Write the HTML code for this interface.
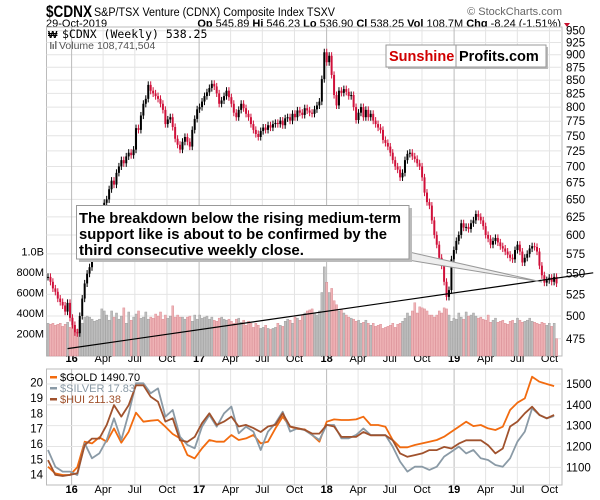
<!DOCTYPE html>
<html><head><meta charset="utf-8">
<style>
body{margin:0;background:#fff;}
svg{display:block;font-family:"Liberation Sans",sans-serif;}
</style></head>
<body>
<svg id="c" width="600" height="500" viewBox="0 0 600 500" xmlns="http://www.w3.org/2000/svg">
<rect width="600" height="500" fill="#fff"/>
<g>
<text x="46" y="17" font-size="17" font-weight="bold" textLength="46" lengthAdjust="spacingAndGlyphs">$CDNX</text>
<text x="94" y="16" font-size="11.5" textLength="241" lengthAdjust="spacingAndGlyphs">S&amp;P/TSX Venture (CDNX) Composite Index  TSXV</text>
<text x="562" y="15" font-size="11" fill="#666" text-anchor="end">© StockCharts.com</text>
<text x="46" y="27" font-size="11">29-Oct-2019</text>
<text x="561" y="27" font-size="11" text-anchor="end"><tspan font-weight="bold">Op</tspan> 545.89  <tspan font-weight="bold">Hi</tspan> 546.23  <tspan font-weight="bold">Lo</tspan> 536.90  <tspan font-weight="bold">Cl</tspan> 538.25  <tspan font-weight="bold">Vol</tspan> 108.7M  <tspan font-weight="bold">Chg</tspan> -8.24 (-1.51%)</text>
<polygon points="564,23 570,23 567,27" fill="#c8102e"/>
</g>
<g id="main"></g>
<g id="lower"></g>
</svg>
<script>
// ---- data ----
const closes=[546,540,532,528,520,516,512,505,515,498,490,482,481,
500,520,538,550,558,575,590,610,625,635,645,650,
665,678,672,690,700,710,705,716,722,718,727,
763,760,785,806,815,841,830,825,820,
815,806,795,770,778,782,765,745,735,727,740,748,
740,732,760,779,796,800,810,820,827,835,843,838,
825,806,812,820,830,818,806,790,782,795,806,798,788,782,770,760,753,748,758,764,
760,768,764,770,772,770,776,768,780,782,776,788,782,794,790,786,798,794,790,788,796,803,810,
852,905,885,898,860,822,803,830,826,833,828,
820,822,800,777,790,800,782,795,782,788,776,770,764,760,743,738,732,722,710,700,695,683,690,
710,720,722,716,712,705,700,683,660,646,641,620,600,587,570,560,540,522,530,568,
580,592,600,616,610,611,608,616,620,629,625,620,612,600,595,587,592,596,590,585,582,
578,574,570,568,580,587,578,564,570,575,582,585,584,578,560,548,539,542,545,540,546,538];
const volumes=[300,290,300,280,290,300,270,290,310,260,280,210,240,
330,300,360,370,360,340,320,330,340,440,420,380,330,420,360,400,340,370,
450,300,410,330,360,390,420,350,360,410,340,360,350,390,370,410,340,380,350,370,470,360,380,360,360,
340,360,370,320,380,340,380,350,360,370,340,360,330,320,350,360,340,330,340,320,300,340,350,310,330,280,320,300,260,300,280,250,260,280,250,
240,250,260,300,280,270,320,340,330,300,360,350,330,380,400,420,430,440,400,380,420,
600,850,700,600,640,520,480,420,430,400,380,
360,350,340,320,330,300,310,330,300,280,300,270,280,290,250,260,270,280,300,260,290,300,320,
350,400,370,420,500,400,460,450,440,420,380,380,360,380,420,400,450,440,380,320,
350,340,400,360,340,410,370,380,400,370,350,360,340,330,380,310,330,350,310,320,330,
300,290,320,330,300,350,330,310,320,330,350,320,310,300,290,310,300,280,300,270,300,150];
const priceTicks=[950,925,900,875,850,825,800,775,750,725,700,675,650,625,600,575,550,525,500,475];
const volTicks=[200,400,600,800,1000];
const volTickLabels=["200M","400M","600M","800M","1.0B"];
const monthLabels=["16","Apr","Jul","Oct","17","Apr","Jul","Oct","18","Apr","Jul","Oct","19","Apr","Jul","Oct"];
const monthYears=[2016,2016.247,2016.496,2016.748,2017,2017.247,2017.496,2017.748,2018,2018.247,2018.496,2018.748,2019,2019.247,2019.496,2019.748];
const trendWeeks=[8,223];
const trendPrices=[464.6,551];
// lower panel (every 3 weeks)
const lowerWeeks=[0,3,6,9,12,15,18,21,24,27,30,33,36,39,42,45,48,51,54,57,60,63,66,69,72,75,78,81,84,87,90,93,96,99,102,105,108,111,114,117,120,123,126,129,132,135,138,141,144,147,150,153,156,159,162,165,168,171,174,177,180,183,186,189,192,195,198,201,204,207];
const gold=[1103,1071,1063,1063,1100,1223,1215,1244,1223,1287,1218,1271,1362,1319,1324,1327,1295,1260,1239,1159,1143,1191,1231,1223,1223,1255,1231,1239,1255,1215,1223,1287,1343,1295,1284,1282,1255,1223,1319,1330,1327,1327,1330,1343,1303,1303,1295,1231,1196,1196,1207,1215,1223,1231,1247,1271,1295,1319,1298,1303,1287,1279,1295,1375,1410,1431,1535,1511,1500,1490];
const silver=[15.61,14.52,14.2,14.2,13.98,16.05,15.07,15.39,16.26,17.68,16.26,18.0,19.96,19.96,19.31,19.63,17.78,18.22,16.48,15.94,15.72,17.13,17.89,17.13,18.0,18.44,16.7,17.13,16.81,15.61,16.81,17.35,18.11,16.81,17.02,16.91,16.59,16.26,17.24,17.24,16.37,16.37,16.59,17.02,16.59,16.59,16.59,15.83,14.85,14.2,14.52,14.52,14.31,14.52,15.18,15.5,15.83,15.39,15.61,15.07,14.96,14.63,14.52,15.07,16.15,16.81,18.33,17.89,17.67,17.83];
const hui=[129,102,100,102,105,156,168,168,193,229,208,229,265,265,244,235,199,205,165,162,171,196,214,193,199,208,190,193,187,180,190,193,214,190,187,184,177,177,193,190,171,171,171,180,174,174,174,165,141,135,138,141,147,147,153,150,159,165,165,165,156,141,150,190,199,214,226,211,205,211];
const goldTicks=[1100,1200,1300,1400,1500];
const silverTicks=[14,15,16,17,18,19,20];

// ---- scales ----
const NS="http://www.w3.org/2000/svg";
const L=46.5,R=562,T=27,B=356,LT=369,LB=485;
const xW=w=>48+w*2.445;
const xD=d=>71.6+(d-2016)*127.5;
const yP=p=>30.7-Math.log(p/950)*444.5;
const yV=v=>354-v*0.1025;
function mk(parent,tag,attrs){const e=document.createElementNS(NS,tag);for(const k in attrs)e.setAttribute(k,attrs[k]);parent.appendChild(e);return e;}
const main=document.getElementById('main'),lower=document.getElementById('lower');

let fr=mk(main,'rect',{x:L,y:T,width:R-L,height:B-T,fill:'#fff',stroke:'#bbb'});


priceTicks.forEach(p=>{
  const y=yP(p);
  let g=mk(main,'line',{x1:L,x2:R,y1:y,y2:y,stroke:'#e4e4e4'});
  
  
  let t=mk(main,'text',{x:566,y:y+4,'font-size':11.5});t.textContent=p;
  
  
});
volTicks.forEach((v,i)=>{
  const y=yV(v);
  let t=mk(main,'text',{x:44,y:y+4,'font-size':11,'text-anchor':'end'});t.textContent=volTickLabels[i];
  
  
});
monthYears.forEach((d,i)=>{
  const x=xD(d),yr=i%4===0;
  [[main,T,B,362],[lower,LT,LB,493]].forEach(([g,a,b,ty])=>{
    let l=mk(g,'line',{x1:x,x2:x,y1:a,y2:b,stroke:yr?'#bbb':'#e4e4e4'});
    
    
    let t=mk(g,'text',{x:x,y:ty,'font-size':11,'text-anchor':'middle','font-weight':yr?'bold':'normal'});t.textContent=monthLabels[i];
    
    
  });
});
volumes.forEach((v,i)=>{
  const down=i>0&&closes[i]<closes[i-1];
  const y=yV(v);
  let b=mk(main,'rect',{x:xW(i)-1,y:y,width:2.1,height:yV(0)-y+2,fill:down?'#eeb2b5':'#bdbdbd',stroke:down?'#d98890':'#9a9a9a','stroke-width':0.4});
  
  
});
closes.forEach((c,i)=>{
  const o=i>0?closes[i-1]:c;
  const down=c<o;
  const col=down?'#d0103a':'#000';
  const hi=Math.max(o,c)*1.008,lo=Math.min(o,c)*0.992;
  const x=xW(i);
  let w=mk(main,'line',{x1:x,x2:x,y1:yP(hi),y2:yP(lo),stroke:col,'stroke-width':1});
  
  
  const y1=yP(Math.max(o,c)),y2=yP(Math.min(o,c));
  let b=mk(main,'rect',{x:x-1,y:y1,width:2,height:Math.max(1,y2-y1),fill:col});
  
  
});
let tl=mk(main,'line',{x1:xW(trendWeeks[0]),y1:yP(trendPrices[0]),x2:xW(trendWeeks[1]),y2:yP(trendPrices[1]),stroke:'#000','stroke-width':1.2});


</script>
<script>
(function(){
const NS="http://www.w3.org/2000/svg";
const main=document.getElementById('main');
function mk(parent,tag,attrs,txt){const e=document.createElementNS(NS,tag);for(const k in attrs)e.setAttribute(k,attrs[k]);if(txt)e.textContent=txt;parent.appendChild(e);return e;}
let t=mk(main,'text',{x:62,y:38,'font-size':11.5,'font-family':'DejaVu Sans Mono, monospace'},'$CDNX (Weekly) 538.25');


mk(main,'text',{x:48,y:38,'font-size':10,'font-weight':'bold'},'₩');
t=mk(main,'text',{x:59,y:49,'font-size':10.5,fill:'#555'},'Volume 108,741,504');


mk(main,'rect',{x:50,y:42,width:1.5,height:7,fill:'#777'});mk(main,'rect',{x:52.5,y:44,width:1.5,height:5,fill:'#777'});mk(main,'rect',{x:55,y:41,width:1.5,height:8,fill:'#777'});
let lg=mk(main,'g',{});


mk(lg,'rect',{x:388,y:47,width:160,height:22,fill:'#bbb'});
mk(lg,'rect',{x:386,y:45,width:160,height:22,fill:'#fff',stroke:'#999'});
mk(lg,'line',{x1:456,x2:456,y1:45,y2:67,stroke:'#999'});
mk(lg,'text',{x:389,y:61,'font-size':14.5,'font-weight':'bold',fill:'#d00000'},'Sunshine');
mk(lg,'text',{x:459,y:61,'font-size':14.5,'font-weight':'bold',fill:'#000'},'Profits.com');
let cg=mk(main,'g',{});


mk(cg,'polygon',{points:'409,252 542,282 402,259',fill:'#eee',stroke:'#999','stroke-width':1});
mk(cg,'rect',{x:79,y:208,width:333,height:54,fill:'#bbb'});
mk(cg,'rect',{x:76.5,y:205.5,width:332.5,height:53.5,fill:'#fff',stroke:'#999'});
[['The breakdown below the rising medium-term',223,322],['support like is about to be confirmed by the',239,308],['third consecutive weekly close.',255,225]].forEach(([s,y,w])=>{
  mk(cg,'text',{x:79,y:y,'font-size':14.5,'font-weight':'bold',textLength:w,lengthAdjust:'spacingAndGlyphs'},s);
});
})();
</script>
<script>
(function(){
const NS="http://www.w3.org/2000/svg";
const lower=document.getElementById('lower');
function mk(parent,tag,attrs,txt){const e=document.createElementNS(NS,tag);for(const k in attrs)e.setAttribute(k,attrs[k]);if(txt!==undefined)e.textContent=txt;parent.appendChild(e);return e;}
const L=46.5,R=562,LT=369,LB=485;
const xW=w=>48+w*2.445;
const yG=g=>384+(1500-g)*0.2083;
const yS=s=>382.7+(20-s)*15.33;
const yH=h=>476-(h-100)*0.55;
let fr=mk(lower,'rect',{x:L,y:LT,width:R-L,height:LB-LT,fill:'none',stroke:'#bbb'});


goldTicks.forEach(g=>{
  let l=mk(lower,'line',{x1:L,x2:R,y1:yG(g),y2:yG(g),stroke:'#e4e4e4'});
  
  
  let t=mk(lower,'text',{x:566,y:yG(g)+4,'font-size':11.5},g);
  
  
});
silverTicks.forEach(s=>{
  let t=mk(lower,'text',{x:43,y:yS(s)+4,'font-size':11.5,'text-anchor':'end'},s);
  
  
});
function line(vals,sc,col,name){
  const d=vals.map((v,i)=>(i?'L':'M')+xW(lowerWeeks[i]).toFixed(1)+','+sc(v).toFixed(1)).join('');
  let p=mk(lower,'path',{d:d,fill:'none',stroke:col,'stroke-width':1.8,'stroke-linejoin':'round'});
  
  
}
line(gold,yG,'#f26b0f','gold-line');
line(silver,yS,'#8a9aa6','silver-line');
line(hui,yH,'#a0522d','hui-line');
[['$GOLD 1490.70','#f26b0f','#000',381],['$SILVER 17.83','#8a9aa6','#8a9aa6',392],['$HUI 211.38','#a0522d','#a0522d',403]].forEach(([s,c,tc,y])=>{
  let g=mk(lower,'g',{});
  
  
  mk(g,'rect',{x:50,y:y-5,width:7,height:2.5,fill:c});
  mk(g,'text',{x:60,y:y,'font-size':11,fill:tc},s);
});
})();
</script>
</body></html>
